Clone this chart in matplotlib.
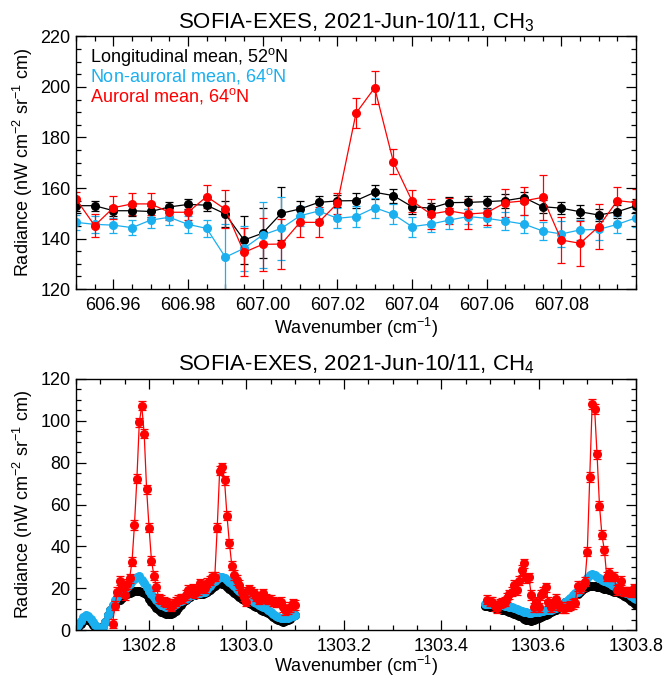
import numpy as np
import matplotlib
matplotlib.use('Agg')
import matplotlib.pyplot as plt
from matplotlib.ticker import MultipleLocator, FormatStrFormatter

plt.rcParams['font.family'] = ['Liberation Sans', 'DejaVu Sans']
plt.rcParams['mathtext.default'] = 'regular'

# ---------------- CH3 panel data ----------------
ch3_wn = np.round(np.arange(606.950, 607.1001, 0.005), 3)
ch3_long = [153.0, 153.0, 151.0, 151.0, 150.7, 152.5, 153.5, 153.2, 149.7, 139.4, 142.1,
            150.0, 151.7, 154.3, 154.9, 155.0, 158.3, 157.0, 152.6, 152.0, 154.2, 154.3,
            154.6, 155.0, 156.2, 152.6, 152.0, 150.6, 149.3, 150.6, 153.0]
ch3_long_err = [2, 2, 2, 2, 2, 2, 2, 2.5, 5, 9.5, 10, 10.5, 3, 2.5, 2.5, 3, 2.7, 2.8, 2.8,
                2, 2.3, 2.5, 2.4, 2.8, 2.3, 2.6, 2.4, 2.5, 2.5, 2.5, 2.5]
ch3_nonaur = [146.4, 145.6, 145.3, 144.3, 147.3, 148.4, 145.6, 144.0, 132.6, 136.1, 141.4,
              144.0, 149.0, 150.9, 148.0, 148.7, 152.2, 149.6, 144.7, 145.7, 147.3, 148.7,
              148.0, 146.9, 145.7, 143.0, 141.8, 143.4, 143.6, 145.6, 148.2]
ch3_nonaur_err = [3, 3.5, 3, 3, 3, 3, 3.5, 3.5, 13, 9, 13, 12.5, 4, 3, 4, 4, 4, 4, 4, 3,
                  3.5, 3, 3.5, 3.5, 3.5, 3.5, 5, 4, 4, 3.5, 3.5]
ch3_aur = [155.6, 145.1, 152.2, 153.7, 153.7, 150.4, 150.4, 156.6, 151.6, 134.5, 137.7,
           137.8, 146.4, 146.4, 153.9, 189.6, 199.7, 170.4, 154.9, 149.7, 150.9, 149.7,
           150.2, 154.2, 154.9, 156.3, 139.4, 138.1, 144.7, 155.0, 154.2]
ch3_aur_err = [3, 4.5, 4.5, 4.5, 4.5, 3, 3, 4.5, 7.5, 9.5, 10.5, 10, 6, 6, 4, 6, 6.5, 5,
               4.5, 6, 5, 6, 5, 5.5, 5.5, 9, 9, 9, 9, 5.5, 5.5]

# ---------------- CH4 panel data ----------------
ch4_wn_left = np.round(np.arange(1302.650, 1303.1001, 0.005), 3)
ch4_wn_left_aur = np.round(np.arange(1302.725, 1303.1001, 0.005), 3)
ch4_wn_right = np.round(np.arange(1303.490, 1303.8001, 0.005), 3)
ch4_wn_right_aur = np.round(np.arange(1303.495, 1303.8001, 0.005), 3)

ch4_long_left = [0.5, 1.5, 3, 4.5, 5.5, 5, 4, 2.5, 1.5, 1,
                 1, 2, 4, 7, 9.6, 11.5, 13, 14, 14.5, 15.5,
                 16.5, 17, 17.5, 18, 18.5, 18.5, 18.5, 18, 17.5, 16.5,
                 15, 13.5, 12, 10.5, 9.5, 8.8, 8.2, 7.8, 7.5, 7.5,
                 8, 9, 10.5, 12, 13.5, 14.5, 15.5, 16, 16.5, 16.7,
                 17, 17, 17.2, 17.5, 18, 19, 20, 21, 21.8, 22.3,
                 22, 21.3, 20.5, 19.5, 18.5, 17.5, 16.5, 15.8, 15, 14.5,
                 14, 13, 12.3, 11.7, 11, 10.3, 9.6, 9, 8.5, 8,
                 7.2, 6.3, 5.5, 4.8, 4.3, 4, 4.2, 4.8, 5.5, 6.5,
                 7.2]
ch4_nonaur_left = [0.8, 2.5, 4.5, 6, 7, 6.8, 5.5, 4, 2.5, 1.5,
                   1, 1.5, 4, 7, 9.6, 12, 14.5, 16, 17, 18,
                   19.5, 20.7, 22, 23.5, 24.5, 25.5, 25.7, 24, 22.3, 20.5,
                   18.5, 17, 15.9, 14.5, 13, 12, 11.5, 11, 10.8, 11,
                   11.5, 12.5, 13.5, 14, 14.4, 15, 15.8, 16.5, 16.7, 17,
                   17.5, 17.8, 18, 18.3, 19.5, 21, 22.5, 23.5, 24.5, 25.3,
                   25.5, 24.8, 24, 23, 22, 21, 19.8, 18.8, 18, 17,
                   16, 15, 14.2, 13.5, 12.8, 12, 11.4, 11, 10.4, 9.5,
                   8.5, 7.5, 6.5, 6, 5.8, 5.6, 5.6, 5.8, 6.2, 6.6,
                   7]
ch4_aur_left = [3, 11.6, 18.3, 23.6, 21, 16.7, 22, 24.7, 32.7, 50.2,
                72.3, 99.2, 107.2, 93.8, 67.3, 49, 33.2, 26, 20.7, 15.2,
                14.4, 13.5, 13, 12.4, 11.2, 12.5, 13.5, 14.4, 15, 15.2,
                16.7, 19.1, 18, 19.9, 17.5, 19, 22.3, 20.5, 19.9, 22.6,
                23.5, 25.5, 25.5, 49, 76.2, 77.8, 71.5, 54.7, 41.5, 30.8,
                26.3, 23.9, 21.5, 18.3, 16, 13.5, 19.5, 18.5, 17.5, 15.9,
                14.4, 16, 17.5, 15, 14.4, 14.4, 13.5, 13.1, 13.3, 13.5,
                11, 9.6, 9.9, 11, 12.7, 12]
ch4_long_right = [11.5, 11.4, 11, 10.8, 10.5, 10.3, 10, 9.8, 9.6, 9.2,
                  8.5, 8, 7.5, 7, 6.5, 6, 5.5, 5, 4.6, 4.5,
                  4.8, 5.2, 5.8, 6.3, 6.8, 7.2, 7.8, 8.5, 9, 9.6,
                  10.5, 11.5, 12.3, 13.2, 14, 14.8, 15.6, 16.5, 17.2, 18.2,
                  19.2, 19.9, 20.5, 21, 21, 21, 20.7, 20.4, 20, 19.8,
                  19.5, 19.2, 18.8, 18.4, 18, 17.5, 17, 16.3, 15.6, 14.8,
                  13.8, 12.9, 12]
ch4_nonaur_right = [12.4, 12.4, 12.3, 12.2, 12, 12, 11.9, 11.8, 11.5, 11.3,
                    11.2, 10.8, 10.4, 10, 9.6, 9.2, 8.8, 8.5, 8.3, 8.3,
                    8.5, 8.6, 8.8, 9, 9.2, 9.4, 9.6, 9.8, 10.2, 10.6,
                    11, 11.6, 12.5, 13.5, 14.5, 15.2, 16.5, 17.5, 18.3, 19.1,
                    21, 23, 25, 26.3, 26.8, 26.3, 25.5, 24.7, 24, 23.3,
                    22.8, 22.3, 21.6, 21, 20.3, 19.7, 19.2, 18.6, 17.8, 17,
                    16.3, 15.5, 14.7]
ch4_aur_right = [14.4, 13.5, 13.5, 11.5, 10.4, 12.8, 13, 13.5, 15.5, 17.1,
                 18.3, 21.5, 19.1, 23.6, 28.7, 31.9, 24.7, 25.2, 16.7, 10.9,
                 13.5, 10.8, 16.7, 18.3, 20.4, 13.5, 10.9, 12.8, 14.8, 11.9,
                 11.2, 10.4, 10.4, 11.2, 11.9, 12.4, 13, 21, 20, 21,
                 23.1, 37.5, 73.1, 108, 105.7, 84, 59.5, 45.5, 38.1, 25.5,
                 27.4, 25.5, 25.5, 19.1, 20, 23.6, 18.3, 18.3, 18.3, 17.8,
                 19.9, 18]
ch4_aur_err = 2.2

legend_labels = ['Longitudinal mean, 52$^o$N', 'Non-auroral mean, 64$^o$N',
                 'Auroral mean, 64$^o$N']

C_BLACK = '#000000'
C_BLUE = '#1AAFEF'
C_RED = '#FF0000'
FS = 13

fig = plt.figure(figsize=(6.65, 6.77), dpi=100)
ax1 = fig.add_axes([0.1143, 0.5731, 0.8421, 0.3730])
ax2 = fig.add_axes([0.1143, 0.0694, 0.8421, 0.3708])

eb_kw = dict(fmt='o-', ms=5.5, lw=0.9, elinewidth=0.9, capsize=3, capthick=0.9)
ax1.errorbar(ch3_wn, ch3_long, yerr=ch3_long_err, color=C_BLACK, **eb_kw)
ax1.errorbar(ch3_wn, ch3_nonaur, yerr=ch3_nonaur_err, color=C_BLUE, **eb_kw)
ax1.errorbar(ch3_wn, ch3_aur, yerr=ch3_aur_err, color=C_RED, **eb_kw)

for xs, yl, yb in [(ch4_wn_left, ch4_long_left, ch4_nonaur_left),
                   (ch4_wn_right, ch4_long_right, ch4_nonaur_right)]:
    ax2.plot(xs, yl, 'o-', color=C_BLACK, ms=5.5, lw=0.9)
    ax2.plot(xs, yb, 'o-', color=C_BLUE, ms=5.5, lw=0.9)
for xs, yr in [(ch4_wn_left_aur, ch4_aur_left), (ch4_wn_right_aur, ch4_aur_right)]:
    ax2.errorbar(xs, yr, yerr=ch4_aur_err, color=C_RED, **eb_kw)

ax1.set_xlim(606.95, 607.10)
ax1.set_ylim(120, 220)
ax1.xaxis.set_minor_locator(MultipleLocator(0.005))
ax1.xaxis.set_major_formatter(FormatStrFormatter('%.2f'))
ax1.yaxis.set_major_locator(MultipleLocator(20))
ax1.yaxis.set_minor_locator(MultipleLocator(5))
ax1.set_xticks([606.96, 606.98, 607.00, 607.02, 607.04, 607.06, 607.08])

ax2.set_xlim(1302.65, 1303.80)
ax2.set_ylim(0, 120)
ax2.set_xticks([1302.8, 1303.0, 1303.2, 1303.4, 1303.6, 1303.8])
ax2.xaxis.set_minor_locator(MultipleLocator(0.05))
ax2.xaxis.set_major_formatter(FormatStrFormatter('%.1f'))
ax2.yaxis.set_major_locator(MultipleLocator(20))
ax2.yaxis.set_minor_locator(MultipleLocator(5))

for ax, lp in ((ax1, 1), (ax2, -1)):
    ax.tick_params(which='both', direction='in', top=True, right=True, labelsize=FS)
    ax.tick_params(which='major', length=7, width=0.9)
    ax.tick_params(which='minor', length=3.5, width=0.9)
    ax.tick_params(axis='x', pad=6)
    ax.tick_params(axis='y', pad=4)
    for s in ax.spines.values():
        s.set_linewidth(1.0)
    ax.set_xlabel('Wavenumber (cm$^{-1}$)', fontsize=FS, labelpad=lp)
    ax.set_ylabel('Radiance (nW cm$^{-2}$ sr$^{-1}$ cm)', fontsize=FS, labelpad=4)

ax1.set_title('SOFIA-EXES, 2021-Jun-10/11, CH$_3$', fontsize=16, pad=6)
ax2.set_title('SOFIA-EXES, 2021-Jun-10/11, CH$_4$', fontsize=16, pad=6)

for lab, col, yy in zip(legend_labels, [C_BLACK, C_BLUE, C_RED], [0.899, 0.820, 0.741]):
    ax1.text(0.025, yy, lab, color=col, fontsize=FS, transform=ax1.transAxes,
             va='baseline', ha='left')

fig.savefig('out.png', dpi=100)
